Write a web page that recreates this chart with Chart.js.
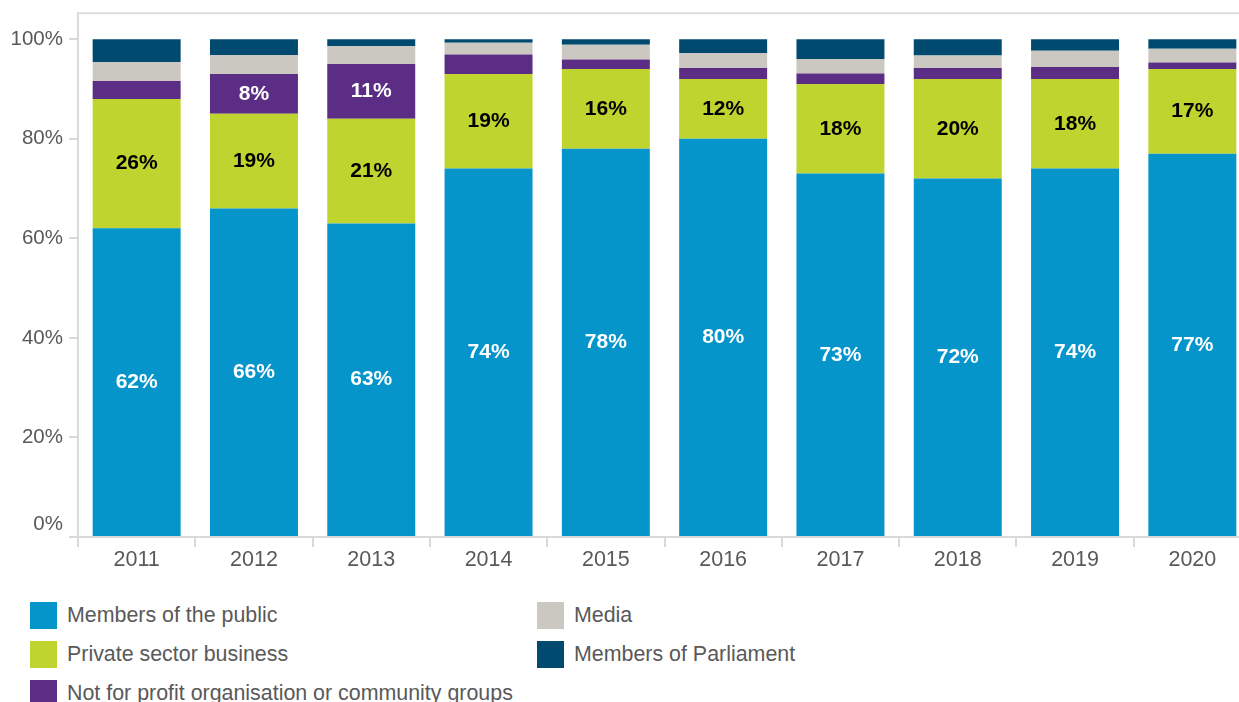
<!DOCTYPE html>
<html>
<head>
<meta charset="utf-8">
<script src="https://cdn.jsdelivr.net/npm/chart.js@4"></script>
<style>
  html, body { margin: 0; padding: 0; background: #fff; overflow: hidden; }
  body { width: 1239px; height: 702px; position: relative; font-family: "Liberation Sans", Arial, sans-serif; }
  #grafico { position: absolute; left: 0; top: -5px; }
  #legenda {
    position: absolute; left: 30px; top: 596px;
    display: grid; grid-template-rows: repeat(3, 39px); grid-auto-flow: column;
    grid-template-columns: 507px 400px;
  }
  .item { display: flex; align-items: center; font-size: 21.4px; color: #595959; white-space: nowrap; }
  .caixa { width: 27px; height: 27px; margin-right: 10px; flex: none; }
</style>
</head>
<body>
<canvas id="grafico" width="1255" height="580"></canvas>
<div id="legenda"></div>
<script>
// anos e percentuais por tipo de solicitante
const years = ['2011', '2012', '2013', '2014', '2015', '2016', '2017', '2018', '2019', '2020'];
const publicPct = [62, 66, 63, 74, 78, 80, 73, 72, 74, 77];
const privatePct = [26, 19, 21, 19, 16, 12, 18, 20, 18, 17];
const notForProfitPct = [3.6, 8, 11, 3.9, 1.9, 2.2, 2.1, 2.2, 2.4, 1.3];
const mediaPct = [3.8, 3.8, 3.6, 2.4, 3.0, 3.0, 2.9, 2.5, 3.3, 2.8];
const mpPct = [4.6, 3.2, 1.4, 0.7, 1.1, 2.8, 4.0, 3.3, 2.3, 1.9];
const yTicks = [0, 20, 40, 60, 80, 100];

const cinza = '#595959';
const linha = '#d9d9d9';
const fonte = '"Liberation Sans", Arial, sans-serif';

// rótulos de valor dentro das barras (só nas séries marcadas)
const rotulosPlugin = {
  id: 'rotulos',
  afterDatasetsDraw(chart) {
    const ctx = chart.ctx;
    ctx.save();
    ctx.font = 'bold 21px ' + fonte;
    ctx.textAlign = 'center';
    ctx.textBaseline = 'middle';
    chart.data.datasets.forEach((ds, i) => {
      if (!ds.corRotulo) return;
      chart.getDatasetMeta(i).data.forEach((bar, j) => {
        const v = ds.data[j];
        if (v < 5) return;
        ctx.fillStyle = ds.corRotulo;
        ctx.fillText(Math.round(v) + '%', bar.x, (bar.y + bar.base) / 2);
      });
    });
    ctx.restore();
  }
};

// linha superior da moldura
const molduraPlugin = {
  id: 'moldura',
  beforeDatasetsDraw(chart) {
    const { ctx, chartArea } = chart;
    ctx.save();
    ctx.strokeStyle = '#dedede';
    ctx.lineWidth = 2;
    ctx.beginPath();
    ctx.moveTo(chartArea.left, chartArea.top);
    ctx.lineTo(chart.width, chartArea.top);
    ctx.stroke();
    ctx.restore();
  }
};

const grafico = new Chart(document.getElementById('grafico'), {
  type: 'bar',
  data: {
    labels: years,
    datasets: [
      { label: 'Members of the public', data: publicPct, backgroundColor: '#0595CB', corRotulo: '#ffffff' },
      { label: 'Private sector business', data: privatePct, backgroundColor: '#BFD42F', corRotulo: '#000000' },
      { label: 'Not for profit organisation or community groups', data: notForProfitPct, backgroundColor: '#5C2D84', corRotulo: '#ffffff' },
      { label: 'Media', data: mediaPct, backgroundColor: '#CBC7C1' },
      { label: 'Members of Parliament', data: mpPct, backgroundColor: '#004A70' }
    ]
  },
  options: {
    responsive: false,
    animation: false,
    devicePixelRatio: 1,
    layout: { padding: { left: 12, right: 4, top: 13, bottom: 5 } },
    datasets: { bar: { categoryPercentage: 1, barPercentage: 0.75, borderWidth: 0 } },
    plugins: { legend: { display: false }, tooltip: { enabled: false } },
    scales: {
      x: {
        stacked: true,
        afterFit: s => { s.height = 33; },
        border: { color: linha, width: 2 },
        grid: { drawOnChartArea: false, color: linha, lineWidth: 2, tickLength: 10 },
        ticks: { color: cinza, padding: 0, font: { size: 21.5, family: fonte } }
      },
      y: {
        stacked: true,
        min: 0,
        max: 105.2,
        afterFit: s => { s.width = 66; },
        afterBuildTicks: s => { s.ticks = yTicks.map(v => ({ value: v })); },
        border: { color: linha, width: 2 },
        grid: { drawOnChartArea: false, color: linha, lineWidth: 2, tickLength: 9 },
        ticks: {
          color: cinza,
          padding: 6,
          font: { size: 20.5, family: fonte },
          // o 0% sobe um pouco para não encostar nos anos
          callback: v => v === 0 ? ['0%', ''] : v + '%'
        }
      }
    }
  },
  plugins: [molduraPlugin, rotulosPlugin]
});

// legenda em duas colunas, montada a partir das séries
const legenda = document.getElementById('legenda');
grafico.data.datasets.forEach(ds => {
  const item = document.createElement('div');
  item.className = 'item';
  item.innerHTML = `<span class="caixa" style="background:${ds.backgroundColor}"></span>${ds.label}`;
  legenda.appendChild(item);
});
</script>
</body>
</html>
